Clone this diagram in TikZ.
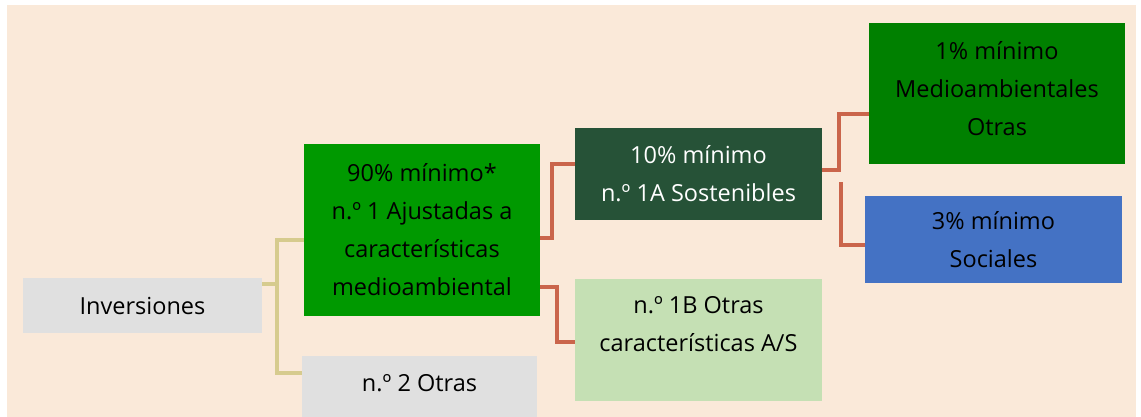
\documentclass[tikz,border=0pt]{standalone}
\usepackage{fontspec}
\setmainfont{Open Sans}
\usepackage{tikz}
\usetikzlibrary{positioning,shapes}
\definecolor{peach}{HTML}{FAE9D9}
\definecolor{boxgray}{HTML}{E0E0E0}
\definecolor{brightgreen}{HTML}{009900}
\definecolor{darkgreen}{HTML}{265237}
\definecolor{midgreen}{HTML}{008000}
\definecolor{lightgreen}{HTML}{C5E0B4}
\definecolor{socialblue}{HTML}{4472C4}
\definecolor{tanline}{HTML}{D6CB8E}
\definecolor{redline}{HTML}{CA654B}
\tikzstyle{box} = [rectangle, text centered, align=center, inner sep=0pt, font=\fontsize{23.5}{38}\selectfont]
\tikzstyle{grey} = [box, fill=boxgray]
\tikzstyle{green} = [box, fill=brightgreen]
\tikzstyle{dark} = [box, fill=darkgreen, text=white]
\tikzstyle{light} = [box, fill=lightgreen]
\tikzstyle{envgreen} = [box, fill=midgreen]
\tikzstyle{social} = [box, fill=socialblue]
\tikzstyle{tanlink} = [line width=4pt, tanline]
\tikzstyle{redlink} = [line width=4pt, redline]

\begin{document}
\begin{tikzpicture}[x=1pt,y=-1pt]
\useasboundingbox (0,0) rectangle (1141,416);
\fill [peach] (7,5) rectangle (1136,420);

\node (inv) [grey, minimum width=239pt, minimum height=55pt] at (142.5,305.5) {Inversiones};
\node (n1) [green, minimum width=236pt, minimum height=172pt] at (422,230) {90\% mínimo*\\n.º 1 Ajustadas a\\características\\medioambiental};
\node (n2) [grey, minimum width=235pt, minimum height=64pt,
  label={[box, yshift=5pt]center:n.º 2 Otras}] at (419.5,388) {};

\node (n1a) [dark, minimum width=247pt, minimum height=92pt] at (698.5,174) {10\% mínimo\\n.º 1A Sostenibles};
\node (n1b) [light, minimum width=247pt, minimum height=122pt,
  label={[box, yshift=16pt]center:{n.º 1B Otras\\características A/S}}] at (698.5,340) {};

\node (env) [envgreen, minimum width=256pt, minimum height=141pt,
  label={[box, yshift=5pt]center:{1\% mínimo\\Medioambientales\\Otras}}] at (997,93.5) {};
\node (soc) [social, minimum width=257pt, minimum height=87pt] at (993.5,239.5) {3\% mínimo\\Sociales};

% tree from Inversiones
\coordinate (tanfork) at (277,284);
\draw [tanlink] (inv.east |- tanfork) -- (tanfork);
\draw [tanlink] (n1.west |- 0,240) -| (tanfork) |- (n2.west |- 0,373);

% branches of n.1
\draw [redlink] (n1.east |- 0,238) -| (552,164) -- (n1a.west |- 0,164);
\draw [redlink] (n1.east |- 0,287) -| (557,342) -- (n1b.west |- 0,342);

% branches of n.1A
\draw [redlink] (n1a.east |- 0,170) -| (839,114) -- (env.west |- 0,114);
\coordinate (socstart) at (841,182);
\draw [redlink] (socstart) |- (soc.west |- 0,245);
\end{tikzpicture}
\end{document}
